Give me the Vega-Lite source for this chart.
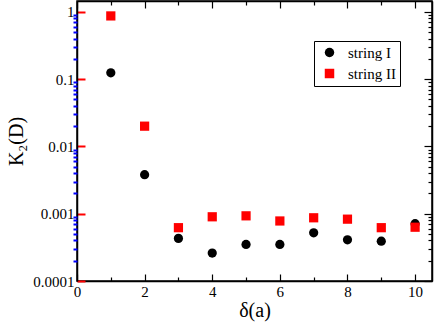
{
  "$schema": "https://vega.github.io/schema/vega-lite/v6.json",
  "width": 355,
  "height": 280,
  "autosize": {"type": "none"},
  "padding": {"left": 77, "top": 1, "right": 4, "bottom": 41},
  "background": "white",
  "config": {
    "view": {"stroke": "black", "strokeWidth": 1.5},
    "font": "Liberation Serif",
    "axis": {
      "grid": false,
      "domainColor": "black",
      "domainWidth": 1.5,
      "tickColor": "black",
      "tickWidth": 1.2,
      "labelFont": "Liberation Serif",
      "labelFontSize": 15,
      "labelColor": "black",
      "titleFont": "Liberation Serif",
      "titleFontSize": 20,
      "titleFontWeight": "normal",
      "titleColor": "black"
    },
    "legend": {
      "labelFont": "Liberation Serif",
      "labelFontSize": 15,
      "labelColor": "black",
      "strokeColor": "black",
      "padding": 4
    }
  },
  "data": {
    "values": [
      {"d": 1, "k": 0.124, "s": "string I"},
      {"d": 2, "k": 0.0038, "s": "string I"},
      {"d": 3, "k": 0.00043, "s": "string I"},
      {"d": 4, "k": 0.00026, "s": "string I"},
      {"d": 5, "k": 0.00035, "s": "string I"},
      {"d": 6, "k": 0.00035, "s": "string I"},
      {"d": 7, "k": 0.00052, "s": "string I"},
      {"d": 8, "k": 0.00041, "s": "string I"},
      {"d": 9, "k": 0.00039, "s": "string I"},
      {"d": 10, "k": 0.00071, "s": "string I"},
      {"d": 1, "k": 0.87, "s": "string II"},
      {"d": 2, "k": 0.020, "s": "string II"},
      {"d": 3, "k": 0.00062, "s": "string II"},
      {"d": 4, "k": 0.00090, "s": "string II"},
      {"d": 5, "k": 0.00093, "s": "string II"},
      {"d": 6, "k": 0.00078, "s": "string II"},
      {"d": 7, "k": 0.00087, "s": "string II"},
      {"d": 8, "k": 0.00083, "s": "string II"},
      {"d": 9, "k": 0.00062, "s": "string II"},
      {"d": 10, "k": 0.00063, "s": "string II"}
    ]
  },
  "layer": [
    {
      "mark": {"type": "point", "filled": true, "size": 85, "opacity": 1},
      "encoding": {
        "x": {
          "field": "d", "type": "quantitative",
          "scale": {"domain": [0, 10.5], "nice": false},
          "axis": {
            "orient": "bottom",
            "title": "δ(a)",
            "titlePadding": 1,
            "values": [0, 1, 2, 3, 4, 5, 6, 7, 8, 9, 10],
            "labelExpr": "datum.value % 2 == 0 ? datum.label : ''",
            "tickSize": {"condition": {"test": "datum.value % 2 == 0", "value": -7}, "value": -4},
            "labelPadding": 10,
            "labelFlush": false
          }
        },
        "y": {
          "field": "k", "type": "quantitative",
          "scale": {"type": "log", "domain": [0.0001, 1.45], "nice": false},
          "axis": {
            "orient": "left",
            "title": "K₂(D)",
            "titlePadding": 6,
            "values": [0.0001, 0.001, 0.01, 0.1, 1],
            "labelExpr": "format(datum.value, '~g')",
            "tickSize": -8,
            "tickColor": "red",
            "tickWidth": 2,
            "labelPadding": 11,
            "labelFlush": false
          }
        },
        "color": {
          "field": "s", "type": "nominal",
          "scale": {"domain": ["string I", "string II"], "range": ["#000000", "#ff0000"]},
          "legend": {
            "title": null,
            "orient": "none",
            "legendX": 237,
            "legendY": 40,
            "fillColor": "white",
            "rowPadding": 5,
            "symbolSize": 90,
            "symbolOffset": 4,
            "labelOffset": 11,
            "labelExpr": "datum.label + '    '"
          }
        },
        "shape": {
          "field": "s", "type": "nominal",
          "scale": {"domain": ["string I", "string II"], "range": ["circle", "square"]},
          "legend": null
        }
      }
    },
    {
      "mark": {"type": "point", "opacity": 0},
      "encoding": {
        "x": {
          "field": "d", "type": "quantitative",
          "axis": {
            "orient": "top",
            "title": null,
            "labels": false,
            "offset": 0,
            "values": [0, 1, 2, 3, 4, 5, 6, 7, 8, 9, 10],
            "tickSize": {"condition": {"test": "datum.value % 2 == 0", "value": -7}, "value": -4}
          }
        },
        "y": {
          "field": "k", "type": "quantitative",
          "axis": {
            "orient": "right",
            "title": null,
            "labels": false,
            "offset": 0,
            "values": [0.0001, 0.0002, 0.0003, 0.0004, 0.0005, 0.0006, 0.0007, 0.0008, 0.0009, 0.001, 0.002, 0.003, 0.004, 0.005, 0.006, 0.007, 0.008, 0.009, 0.01, 0.02, 0.03, 0.04, 0.05, 0.06, 0.07, 0.08, 0.09, 0.1, 0.2, 0.3, 0.4, 0.5, 0.6, 0.7, 0.8, 0.9, 1],
            "tickSize": {"condition": {"test": "indexof([0.0001, 0.001, 0.01, 0.1, 1], datum.value) >= 0", "value": -8}, "value": -4}
          }
        }
      }
    },
    {
      "mark": {"type": "point", "opacity": 0},
      "encoding": {
        "x": {
          "field": "d", "type": "quantitative",
          "axis": null
        },
        "y": {
          "field": "k", "type": "quantitative",
          "axis": {
            "orient": "left",
            "title": null,
            "labels": false,
            "domain": false,
            "offset": 0,
            "tickColor": "blue",
            "tickWidth": 2,
            "values": [0.0002, 0.0003, 0.0004, 0.0005, 0.0006, 0.0007, 0.0008, 0.0009, 0.002, 0.003, 0.004, 0.005, 0.006, 0.007, 0.008, 0.009, 0.02, 0.03, 0.04, 0.05, 0.06, 0.07, 0.08, 0.09, 0.2, 0.3, 0.4, 0.5, 0.6, 0.7, 0.8, 0.9],
            "tickSize": 4
          }
        }
      }
    }
  ],
  "resolve": {"axis": {"x": "independent", "y": "independent"}}
}
